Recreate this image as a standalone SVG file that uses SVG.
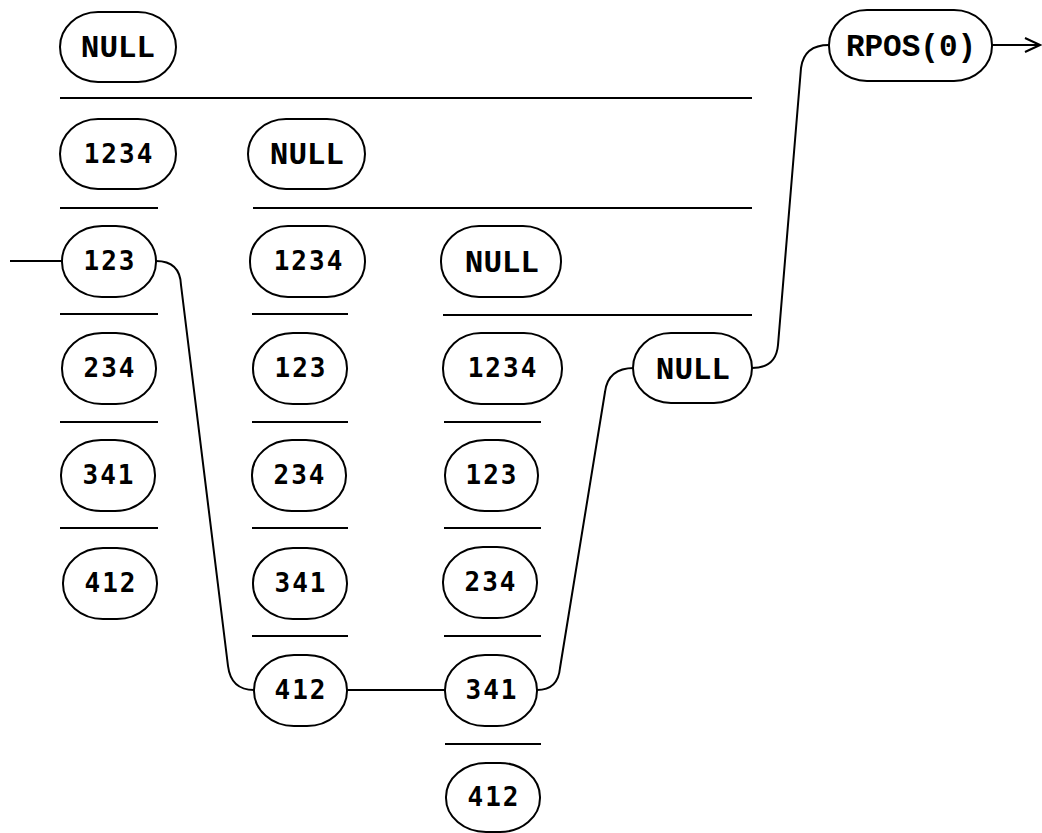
<svg xmlns="http://www.w3.org/2000/svg" width="1042" height="833" viewBox="0 0 1042 833">
<style>
.n rect{fill:#fff;stroke:#000;stroke-width:2}
.n text{font-weight:bold;text-anchor:middle;fill:#000}
.d{font-family:"DejaVu Sans Mono","Liberation Mono",monospace;font-size:26px;letter-spacing:2px}
.w{font-family:"Liberation Mono","DejaVu Sans Mono",monospace;font-size:31px}
.sep line{stroke:#000;stroke-width:2}
.c path{fill:none;stroke:#000;stroke-width:2}
</style>
<rect width="1042" height="833" fill="#fff"/>
<g class="sep">
<line x1="60" y1="98" x2="752" y2="98"/>
<line x1="60" y1="208" x2="158" y2="208"/>
<line x1="253" y1="208" x2="752" y2="208"/>
<line x1="60" y1="314" x2="158" y2="314"/>
<line x1="252" y1="314" x2="348" y2="314"/>
<line x1="443" y1="315" x2="752" y2="315"/>
<line x1="60" y1="422" x2="158" y2="422"/>
<line x1="252" y1="422" x2="348" y2="422"/>
<line x1="444" y1="422" x2="541" y2="422"/>
<line x1="60" y1="528" x2="158" y2="528"/>
<line x1="252" y1="528" x2="348" y2="528"/>
<line x1="444" y1="528" x2="541" y2="528"/>
<line x1="252" y1="636" x2="348" y2="636"/>
<line x1="444" y1="636" x2="541" y2="636"/>
<line x1="445" y1="744" x2="541" y2="744"/>
</g>
<g class="c">
<path d="M10,261 H62"/>
<path d="M156,261 Q180,261 181,285 L228,666 Q231,690 254,690"/>
<path d="M347,690 H445"/>
<path d="M537,690 Q558,690 560,668 L605,392 Q608,368 634,368"/>
<path d="M752,368 Q776,368 778,345 L801,68 Q804,45 829,45"/>
<path d="M992,45 H1040 M1025,38 L1040,45 L1025,52"/>
</g>
<g id="c1r1" class="n"><rect x="60" y="12" width="116" height="70" rx="38" ry="35"/><text class="w" x="118" y="57">NULL</text></g>
<g id="c1r2" class="n"><rect x="60" y="119" width="116" height="70" rx="38" ry="35"/><text class="d" x="119" y="163">1234</text></g>
<g id="c1r3" class="n"><rect x="62" y="226" width="94" height="71" rx="40" ry="35"/><text class="d" x="110" y="270">123</text></g>
<g id="c1r4" class="n"><rect x="62" y="333" width="94" height="71" rx="40" ry="35"/><text class="d" x="110" y="377">234</text></g>
<g id="c1r5" class="n"><rect x="61" y="440" width="94" height="71" rx="40" ry="35"/><text class="d" x="109" y="484">341</text></g>
<g id="c1r6" class="n"><rect x="63" y="548" width="94" height="71" rx="40" ry="35"/><text class="d" x="111" y="592">412</text></g>
<g id="c2r2" class="n"><rect x="248" y="119" width="117" height="70" rx="38" ry="35"/><text class="w" x="307" y="164">NULL</text></g>
<g id="c2r3" class="n"><rect x="250" y="226" width="115" height="71" rx="38" ry="35"/><text class="d" x="309" y="270">1234</text></g>
<g id="c2r4" class="n"><rect x="253" y="333" width="94" height="71" rx="40" ry="35"/><text class="d" x="301" y="377">123</text></g>
<g id="c2r5" class="n"><rect x="252" y="440" width="94" height="71" rx="40" ry="35"/><text class="d" x="300" y="484">234</text></g>
<g id="c2r6" class="n"><rect x="253" y="548" width="94" height="71" rx="40" ry="35"/><text class="d" x="301" y="592">341</text></g>
<g id="c2r7" class="n"><rect x="254" y="655" width="93" height="71" rx="40" ry="35"/><text class="d" x="301" y="699">412</text></g>
<g id="c3r3" class="n"><rect x="441" y="226" width="120" height="71" rx="38" ry="35"/><text class="w" x="502" y="272">NULL</text></g>
<g id="c3r4" class="n"><rect x="443" y="333" width="119" height="71" rx="38" ry="35"/><text class="d" x="503" y="377">1234</text></g>
<g id="c3r5" class="n"><rect x="445" y="440" width="93" height="71" rx="40" ry="35"/><text class="d" x="492" y="484">123</text></g>
<g id="c3r6" class="n"><rect x="443" y="547" width="94" height="71" rx="40" ry="35"/><text class="d" x="491" y="591">234</text></g>
<g id="c3r7" class="n"><rect x="445" y="655" width="92" height="71" rx="40" ry="35"/><text class="d" x="492" y="699">341</text></g>
<g id="c3r8" class="n"><rect x="446" y="763" width="94" height="69" rx="40" ry="34"/><text class="d" x="494" y="806">412</text></g>
<g id="c4r4" class="n"><rect x="633" y="333" width="119" height="70" rx="38" ry="35"/><text class="w" x="693" y="379">NULL</text></g>
<g id="rpos" class="n"><rect x="829" y="10" width="163" height="71" rx="38" ry="35"/><text class="w" x="911" y="56">RPOS(0)</text></g>
</svg>
